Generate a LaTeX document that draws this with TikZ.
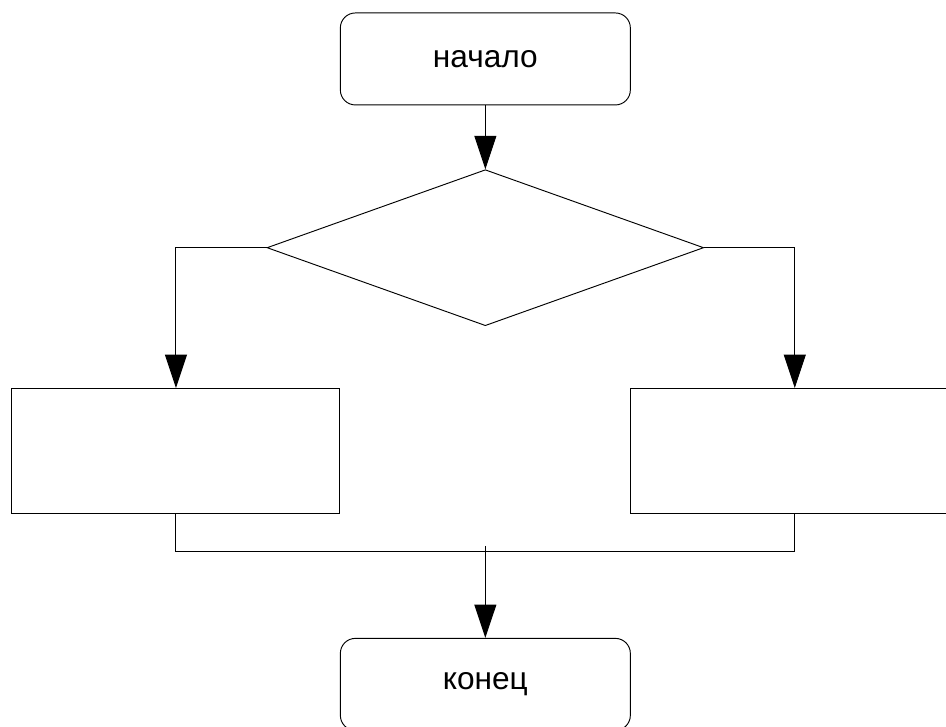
\documentclass[tikz,border=0pt]{standalone}
\usepackage{fontspec}
\setmainfont{Liberation Sans}
\usetikzlibrary{matrix,shapes.geometric,arrows.meta}

\tikzset{
  term/.style={draw,anchor=center,rounded corners=0.45cm,minimum width=8.7cm,minimum height=2.76cm},
  decision/.style={draw,anchor=center,diamond,minimum width=13.1cm,minimum height=4.68cm},
  action/.style={draw,anchor=center,minimum width=9.84cm,minimum height=3.75cm},
}

\begin{document}
\begin{tikzpicture}[ampersand replacement=\&,line width=0.8pt,font=\fontsize{27}{32}\selectfont]
  \useasboundingbox (0,0) rectangle (28.38,-21.78);
  \matrix(m)[matrix of nodes,anchor=north west,inner sep=0pt,row sep=0pt,column sep=-2.21cm] at (0.33,-0.36)
  {            \& |[term]| начало \&            \\[1.92cm]
               \& |[decision]|    \&            \\[1.86cm]
    |[action]| \&                 \& |[action]| \\[3.72cm]
               \& |[term]| конец  \&            \\
  };
  \coordinate (join) at ([yshift=-1.14cm]m-4-2 |- m-3-1.south);
  \coordinate (stub) at ([yshift=-0.96cm]m-4-2 |- m-3-1.south);
  \draw (m-3-1.south) |- (join) -| (m-3-3.south);
  \path[-{Triangle[length=1cm,width=0.66cm]}]
    (m-1-2) edge (m-2-2)
    (m-2-2.west) edge [to path={-| (\tikztotarget)}] (m-3-1.north)
    (m-2-2.east) edge [to path={-| (\tikztotarget)}] (m-3-3.north)
    (stub) edge (m-4-2);
\end{tikzpicture}
\end{document}
